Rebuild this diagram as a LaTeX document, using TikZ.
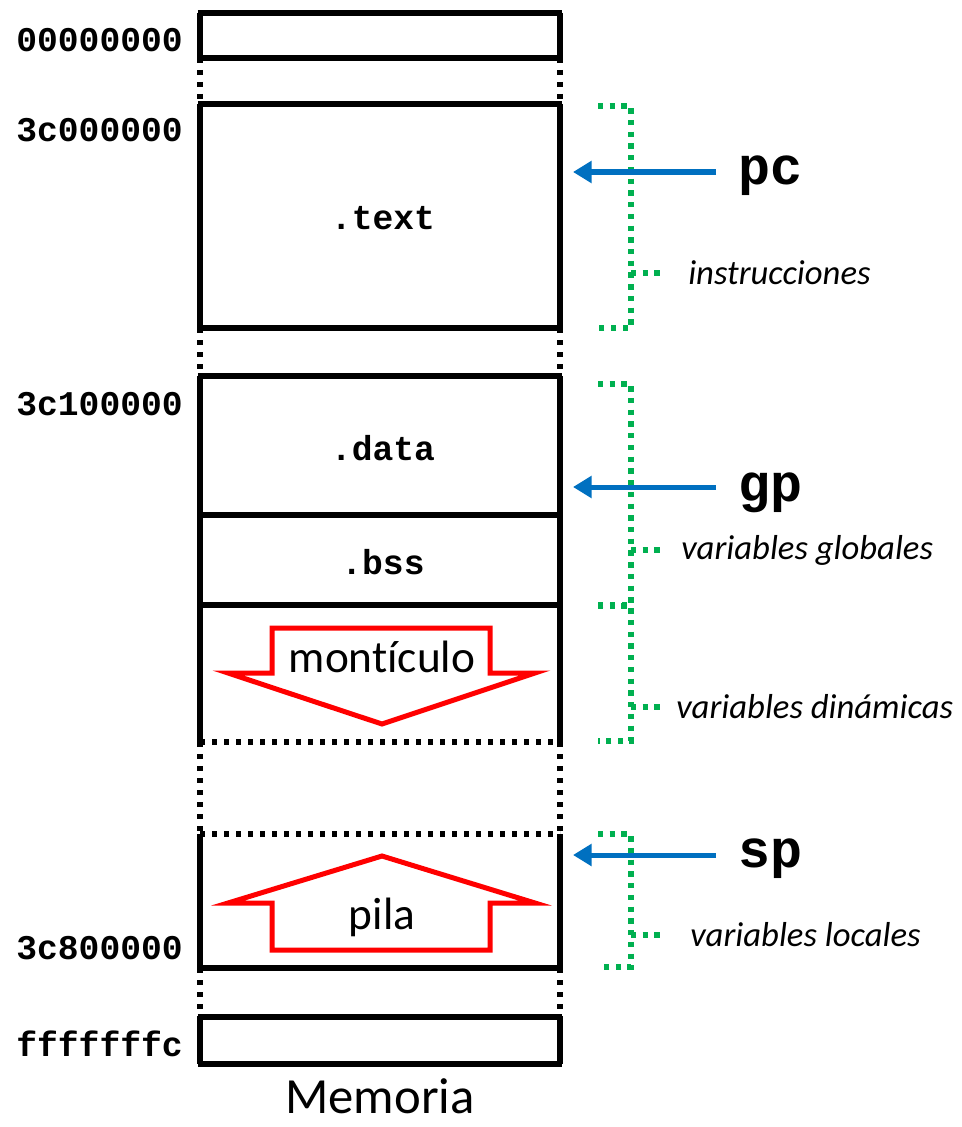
\documentclass[tikz,border=0pt]{standalone}
\usepackage{fontspec}
\setmainfont{Carlito}[Ligatures={NoCommon}]
\newfontfamily\mono{Liberation Mono}
\usetikzlibrary{arrows.meta}
\definecolor{gr}{HTML}{00B050}
\definecolor{bl}{HTML}{0070C0}
\definecolor{rd}{HTML}{FF0000}
\begin{document}
\begin{tikzpicture}[x=0.75pt,y=-0.75pt,
  wall/.style={line width=4.5pt},
  dotwall/.style={line width=4.5pt, dash pattern=on 3.75pt off 5.25pt},
  brace/.style={draw=gr, line width=4.2pt, dash pattern=on 4pt off 4.8pt},
  ptr/.style={draw=bl, line width=3.75pt, -{Triangle[length=14pt,width=16pt]}},
  addr/.style={font=\mono\bfseries\fontsize{26}{26}\selectfont, anchor=east, inner sep=0pt},
  seg/.style={font=\mono\bfseries\fontsize{26}{26}\selectfont, inner sep=0pt},
  reg/.style={font=\mono\bfseries\fontsize{40}{40}\selectfont, inner sep=0pt},
  note/.style={font=\itshape\fontsize{26}{26}\selectfont, anchor=west, inner sep=0pt},
  growarrow/.style={draw=rd, line width=3.75pt, fill=white},
  bigtext/.style={font=\fontsize{34}{34}\selectfont, inner sep=0pt}]
\useasboundingbox (0,0) rectangle (961,1127);
% column coordinates
\def\L{200}\def\R{560}
% sides
\foreach \a/\b in {13/58,104/328,376/742,834/968,1017/1064}{
  \draw[wall] (\L,\a) -- (\L,\b); \draw[wall] (\R,\a) -- (\R,\b);}
\foreach \a/\b in {58/104,328/376,742/834,968/1017}{
  \draw[dotwall] (\L,\a) -- (\L,\b); \draw[dotwall] (\R,\a) -- (\R,\b);}
% horizontal lines
\foreach \y in {13,58,104,328,376,515,605,968,1017,1064}{
  \draw[wall] (\L-2.25,\y) -- (\R+2.25,\y);}
\foreach \y in {742,834}{
  \draw[dotwall] (\L,\y) -- (\R,\y);}
% addresses
\node[addr] (a0) at (183,40) {00000000};
\node[addr] (a1) at (183,130) {3c000000};
\node[addr] (a2) at (183,404) {3c100000};
\node[addr] (a3) at (183,948) {3c800000};
\node[addr] (a4) at (183,1044) {fffffffc};
% segments
\node[seg] (stext) at (383,218) {.text};
\node[seg] (sdata) at (383,448) {.data};
\node[seg] (sbss) at (383,562) {.bss};
% heap arrow
\draw[growarrow] (272,628) -- (490,628) -- (490,673) -- (535,673) -- (382,724) -- (228,673) -- (272,673) -- cycle;
\node[bigtext] (heap) at (382,657) {montículo};
% stack arrow
\draw[growarrow] (382,856) -- (535,903) -- (490,903) -- (490,950) -- (272,950) -- (272,903) -- (228,903) -- cycle;
\node[bigtext] (stack) at (382,917) {pila};
% memoria
\node[font=\fontsize{38}{38}\selectfont, inner sep=0pt] (mem) at (380,1096) {Memoria};
% brackets
\foreach \t/\m/\b in {106/273/328, 384/550/605, 606/707/741, 834/935/967}{
  \draw[brace] (598,\t) -- (631,\t) -- (631,\b) -- (598,\b);
  \draw[brace] (631,\m) -- (665,\m);}
\node[note] (n1) at (688,273) {instrucciones};
\node[note] (n2) at (681,550) {variables globales};
\node[note] (n3) at (676,707) {variables dinámicas};
\node[note] (n4) at (690,935) {variables locales};
% registers
\node[reg] (pc) at (770,176) {pc};
\node[reg] (gp) at (770,493) {gp};
\node[reg] (sp) at (770,859) {sp};
\coordinate (pcS) at (716,172); \coordinate (pcT) at (573,172);
\coordinate (gpS) at (716,487); \coordinate (gpT) at (573,487);
\coordinate (spS) at (716,855); \coordinate (spT) at (573,855);
\draw[ptr] (pcS) -- (pcT);
\draw[ptr] (gpS) -- (gpT);
\draw[ptr] (spS) -- (spT);
\end{tikzpicture}
\end{document}
